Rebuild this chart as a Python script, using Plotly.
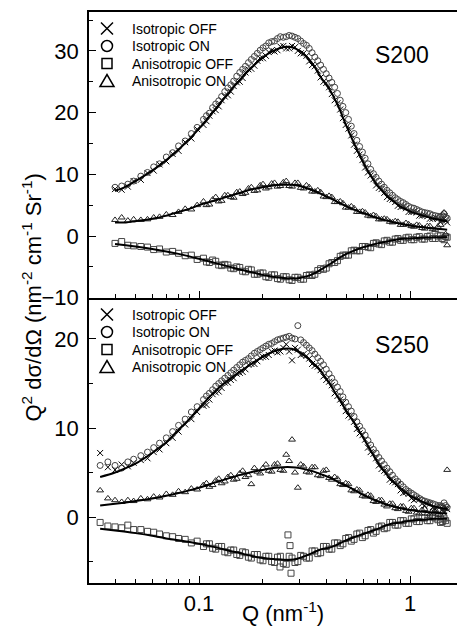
import plotly.graph_objects as go

# ---------------- data ----------------
Q_TOP = [0.040, 0.043, 0.046, 0.049, 0.053, 0.057, 0.061, 0.065, 0.070, 0.075,
         0.080, 0.086, 0.092, 0.098, 0.105, 0.112, 0.120, 0.128, 0.137, 0.146,
         0.156, 0.166, 0.177, 0.189, 0.201, 0.214, 0.228, 0.243, 0.259, 0.276,
         0.294, 0.313, 0.333, 0.354, 0.377, 0.401, 0.426, 0.453, 0.481, 0.511,
         0.543, 0.577, 0.613, 0.651, 0.691, 0.733, 0.778, 0.826, 0.876, 0.929,
         0.985, 1.044, 1.107, 1.173, 1.243, 1.317, 1.395, 1.450, 1.500]
Q_BOT = [0.034, 0.037] + Q_TOP
# additional (denser) Q points of the measured curves above 0.1 nm^-1
Q_MID = [0.1085, 0.116, 0.124, 0.1325, 0.1415, 0.151, 0.161, 0.1715, 0.183, 0.195,
         0.2075, 0.221, 0.2355, 0.251, 0.2675, 0.285, 0.3035, 0.323, 0.3435, 0.3655,
         0.389, 0.4135, 0.4395, 0.467, 0.496, 0.527, 0.56, 0.595, 0.632, 0.671,
         0.712, 0.7555, 0.802, 0.851, 0.9025, 0.957, 1.0145, 1.0755, 1.14, 1.208,
         1.28, 1.356, 1.4225, 1.475]

# S200 (top panel)
S200_ISO_OFF = [7.6, 7.5, 8.0, 8.9, 9.1, 10.2, 10.6, 11.6, 12.1, 13.3,
                13.8, 15.2, 15.8, 17.3, 18.0, 19.5, 20.4, 22.0, 22.8, 24.3,
                25.0, 26.5, 27.1, 28.4, 28.8, 29.8, 29.9, 30.7, 30.4, 30.8,
                30.0, 29.6, 28.3, 27.5, 25.7, 24.8, 23.0, 21.5, 19.1, 17.4,
                14.8, 13.2, 11.1, 9.8, 8.2, 7.6, 6.3, 5.9, 4.9, 4.8,
                3.9, 4.0, 3.3, 3.4, 2.8, 3.0, 2.4, 2.8, 2.2]
S200_ISO_OFF_MID = [18.6, 20.2, 21.0, 22.6, 23.4, 24.9, 25.6, 27.0, 27.6, 28.8,
                    29.2, 30.1, 30.1, 30.8, 30.4, 30.6, 29.6, 29.2, 27.7, 26.8,
                    25.0, 24.1, 22.0, 20.5, 18.0, 16.3, 13.8, 12.3, 10.3, 9.2,
                    7.8, 7.0, 6.0, 5.5, 4.7, 4.5, 3.9, 3.8, 3.3, 3.2,
                    2.8, 2.8, 2.5, 2.6]
S200_ISO_ON = [7.9, 8.1, 8.4, 8.9, 9.7, 10.3, 11.2, 11.7, 12.8, 13.5,
               14.6, 15.4, 16.6, 17.6, 18.9, 19.9, 21.4, 22.6, 24.0, 25.1,
               26.5, 27.5, 28.6, 29.6, 30.5, 31.3, 31.6, 32.3, 32.3, 32.4,
               32.0, 31.2, 30.4, 29.0, 27.7, 26.3, 24.9, 23.1, 21.0, 18.9,
               16.6, 14.5, 12.6, 10.8, 9.5, 8.4, 7.4, 6.6, 5.9, 5.4,
               4.8, 4.5, 4.1, 3.8, 3.6, 3.3, 3.1, 3.6, 2.9]
S200_ISO_ON_MID = [19.5, 20.8, 21.9, 23.4, 24.5, 25.9, 27.0, 28.1, 29.1, 30.1,
                   30.8, 31.5, 32.0, 32.2, 32.5, 32.2, 31.6, 30.9, 29.7, 28.4,
                   27.0, 25.6, 24.1, 22.0, 20.0, 17.8, 15.5, 13.6, 11.7, 10.1,
                   8.9, 7.9, 7.0, 6.2, 5.6, 5.1, 4.6, 4.3, 3.9, 3.7,
                   3.4, 3.2, 3.3, 3.0]
S200_ANI_OFF = [-1.2, -0.9, -1.5, -1.6, -1.7, -1.8, -2.2, -2.1, -2.6, -2.5,
                -2.8, -3.2, -3.1, -3.8, -3.6, -4.3, -4.1, -4.8, -4.7, -5.3,
                -5.1, -5.8, -5.5, -6.2, -6.0, -6.7, -6.3, -7.0, -6.6, -7.2,
                -6.7, -7.0, -6.3, -6.2, -5.3, -5.2, -4.3, -4.0, -3.1, -3.1,
                -2.3, -2.4, -1.7, -1.9, -1.1, -1.4, -0.7, -1.0, -0.4, -0.7,
                -0.2, -0.6, -0.1, -0.5, 0.0, -0.4, 0.1, -0.6, -0.2]
S200_ANI_OFF_MID = [-4.2, -3.9, -4.7, -4.6, -5.2, -5.0, -5.7, -5.4, -6.2, -6.0,
                    -6.6, -6.3, -6.9, -6.6, -7.1, -6.7, -7.0, -6.4, -6.4, -5.6,
                    -5.4, -4.5, -4.3, -3.3, -3.1, -2.4, -2.4, -1.7, -1.8, -1.2,
                    -1.3, -0.8, -1.0, -0.5, -0.7, -0.3, -0.6, -0.2, -0.5, -0.1,
                    -0.4, 0.0, -0.4, -0.1]
S200_ANI_ON = [2.6, 3.0, 2.5, 2.7, 2.6, 2.7, 3.0, 3.1, 3.5, 3.4,
               3.9, 4.4, 4.3, 5.0, 5.6, 5.1, 6.3, 5.7, 6.6, 6.2,
               7.2, 7.0, 7.9, 7.4, 8.4, 7.9, 8.6, 8.1, 8.9, 8.0,
               8.6, 7.7, 7.9, 7.2, 7.1, 6.3, 6.3, 5.5, 5.3, 4.6,
               4.5, 3.9, 3.8, 3.2, 3.2, 2.7, 2.7, 2.2, 2.3, 1.8,
               1.9, 1.5, 1.7, 1.2, 1.6, 1.0, 1.8, 3.8, -1.5]
S200_ANI_ON_MID = [5.0, 5.9, 5.6, 6.6, 6.3, 7.1, 6.8, 7.7, 7.3, 8.2,
                   7.7, 8.5, 8.0, 8.7, 8.1, 8.6, 7.8, 8.2, 7.2, 7.4,
                   6.4, 6.5, 5.5, 5.6, 4.6, 4.8, 3.9, 4.0, 3.3, 3.4,
                   2.7, 2.8, 2.3, 2.4, 1.8, 2.1, 1.6, 1.8, 1.3, 1.6,
                   1.1, 1.5, 2.6, 0.3]

# S250 (bottom panel)
S250_ISO_OFF = [7.2, 5.6, 5.3, 5.9, 5.7, 6.1, 6.4, 6.6, 7.3, 7.6, 8.3, 8.9,
                9.6, 10.4, 11.0, 11.8, 12.5, 13.2, 14.0, 14.5, 15.1, 15.6,
                16.2, 16.6, 17.2, 17.5, 18.0, 18.2, 18.7, 18.6, 19.4, 17.6,
                18.8, 18.3, 17.8, 17.0, 16.5, 15.4, 14.8, 13.6, 12.8, 11.4,
                10.7, 9.4, 8.7, 7.3, 6.6, 5.4, 5.0, 4.0, 3.7, 2.7,
                2.6, 1.9, 2.0, 1.3, 1.5, 0.9, 1.2, 0.5, 0.9]
S250_ISO_OFF_MID = [12.6, 13.8, 14.1, 15.1, 15.4, 16.1, 16.3, 17.1, 17.2, 17.9,
                    18.0, 18.6, 18.5, 19.0, 18.6, 19.0, 18.2, 18.1, 17.2, 16.9,
                    15.8, 15.2, 13.9, 13.2, 11.9, 11.2, 9.9, 9.2, 7.8, 7.1,
                    5.8, 5.2, 4.2, 3.9, 3.0, 2.8, 2.1, 2.1, 1.5, 1.6,
                    1.1, 1.2, 0.8, 1.0]
S250_ISO_ON = [5.8, 6.2, 5.8, 5.5, 6.2, 6.5, 6.9, 7.3, 7.8, 8.3, 8.9, 9.6,
               10.3, 11.0, 11.8, 12.4, 13.2, 13.9, 14.7, 15.3, 15.9, 16.5,
               17.1, 17.6, 18.1, 18.6, 19.0, 19.4, 19.7, 20.0, 20.2, 20.1,
               21.5, 19.6, 19.0, 18.3, 17.5, 16.6, 15.6, 14.6, 13.5, 12.4,
               11.3, 10.2, 9.2, 8.1, 7.2, 6.3, 5.5, 4.7, 4.0, 3.4,
               2.9, 2.5, 2.1, 1.8, 1.6, 1.4, 1.3, 1.6, 1.1]
S250_ISO_ON_MID = [13.6, 14.3, 15.0, 15.6, 16.2, 16.8, 17.4, 17.8, 18.4, 18.8,
                   19.2, 19.5, 19.9, 20.1, 20.3, 20.0, 19.9, 19.3, 18.7, 17.9,
                   17.1, 16.1, 15.1, 14.1, 12.9, 11.9, 10.7, 9.7, 8.6, 7.6,
                   6.7, 5.9, 5.1, 4.3, 3.7, 3.1, 2.7, 2.3, 1.9, 1.7,
                   1.5, 1.3, 1.2, 1.3]
S250_ANI_OFF = [-0.6, -1.0, -1.1, -1.2, -0.9, -1.4, -1.4, -1.6, -1.7, -1.9, -2.1, -2.2,
                -2.4, -2.5, -2.9, -2.7, -3.3, -3.0, -3.6, -3.3, -4.0, -3.7,
                -4.3, -4.0, -4.6, -4.2, -4.9, -4.4, -5.1, -4.4, -5.3, -4.6,
                -5.0, -4.4, -4.6, -3.8, -4.0, -3.3, -3.6, -2.9, -3.0, -2.3,
                -2.5, -1.8, -2.1, -1.4, -1.6, -1.0, -1.2, -0.6, -0.9, -0.4,
                -0.7, -0.2, -0.5, -0.1, -0.4, -0.1, -0.6, -0.2, -0.7]
S250_ANI_OFF_MID = [-3.0, -3.5, -3.3, -3.9, -3.7, -4.2, -3.9, -4.5, -4.2, -4.8,
                    -4.4, -5.0, -4.5, -5.2, -4.4, -5.1, -4.3, -4.6, -3.8, -4.1,
                    -3.3, -3.6, -2.9, -3.2, -2.4, -2.7, -1.9, -2.3, -1.5, -1.8,
                    -1.1, -1.3, -0.6, -0.9, -0.4, -0.7, -0.2, -0.5, -0.1, -0.4,
                    0.0, -0.3, -0.5, -0.4]
S250_ANI_ON = [3.0, 2.1, 1.9, 1.7, 1.9, 1.8, 2.1, 2.0, 2.3, 2.2, 2.6, 2.5,
               2.9, 2.8, 3.2, 3.1, 3.6, 3.4, 4.1, 3.8, 4.5, 4.2,
               4.9, 4.5, 3.7, 5.1, 5.5, 5.2, 5.9, 5.3, 7.0, 8.7,
               3.3, 5.7, 5.0, 5.6, 4.6, 5.3, 4.2, 4.3, 3.6, 3.7,
               2.9, 3.0, 2.3, 2.4, 1.7, 1.9, 1.2, 1.5, 0.9, 1.2,
               0.6, 1.0, 0.4, 0.9, 0.3, 0.8, 0.2, 1.0, 5.3]
S250_ANI_ON_MID = [3.8, 3.6, 4.3, 4.0, 4.7, 4.3, 5.2, 4.7, 5.5, 4.9,
                   5.9, 5.1, 6.0, 5.2, 6.3, 5.0, 5.9, 5.1, 5.6, 4.7,
                   5.2, 4.4, 4.5, 3.7, 3.8, 3.0, 3.1, 2.4, 2.5, 1.8,
                   1.9, 1.4, 1.5, 1.0, 1.2, 0.7, 1.0, 0.5, 0.8, 0.4,
                   0.7, 0.3, 0.6, 0.9]
# scattered anisotropic-OFF points near the S250 minimum
S250_ANI_OFF_OUT_Q = [0.264, 0.270, 0.242, 0.273]
S250_ANI_OFF_OUT = [-2.0, -3.2, -5.6, -6.3]

# fitted curves
QF_TOP = [0.040, 0.045, 0.050, 0.060, 0.070, 0.080, 0.090, 0.100, 0.120, 0.140,
          0.160, 0.180, 0.200, 0.225, 0.250, 0.275, 0.300, 0.340, 0.380, 0.420,
          0.460, 0.500, 0.550, 0.600, 0.650, 0.700, 0.800, 0.900, 1.000, 1.150,
          1.300, 1.500]
QF_BOT = [0.034] + QF_TOP
FIT_S200_ISO = [7.3, 8.0, 8.9, 10.6, 12.3, 14.0, 15.7, 17.4, 20.6, 23.4,
                25.7, 27.5, 28.9, 30.0, 30.6, 30.6, 30.0, 28.2, 25.6, 23.5,
                20.8, 17.8, 14.6, 11.9, 9.8, 8.2, 6.1, 4.8, 4.0, 3.3,
                2.8, 2.4]
FIT_S200_ANI_ON = [2.2, 2.2, 2.4, 2.8, 3.3, 3.9, 4.4, 5.0, 5.8, 6.5,
                   7.1, 7.6, 7.9, 8.2, 8.3, 8.3, 8.1, 7.5, 6.8, 6.1,
                   5.4, 4.8, 4.2, 3.7, 3.3, 2.9, 2.4, 2.0, 1.7, 1.4,
                   1.2, 1.0]
FIT_S200_ANI_OFF = [-1.3, -1.5, -1.7, -2.1, -2.5, -2.9, -3.3, -3.7, -4.4, -5.0,
                    -5.5, -5.9, -6.3, -6.6, -6.8, -6.9, -6.8, -6.3, -5.4, -4.5,
                    -3.6, -2.9, -2.3, -1.8, -1.5, -1.2, -0.8, -0.5, -0.4, -0.3,
                    -0.2, -0.2]
FIT_S250_ISO = [4.5, 5.0, 5.5, 6.0, 7.2, 8.4, 9.8, 11.0, 12.2, 14.2, 15.5,
                16.5, 17.3, 18.0, 18.6, 18.9, 18.9, 18.5, 17.5, 16.3, 14.8,
                13.3, 11.9, 10.4, 8.9, 7.5, 6.2, 4.4, 3.2, 2.4, 1.7,
                1.2, 0.9]
FIT_S250_ANI_ON = [1.3, 1.5, 1.65, 1.8, 2.1, 2.4, 2.7, 3.0, 3.3, 3.9, 4.4,
                   4.8, 5.1, 5.3, 5.5, 5.6, 5.6, 5.5, 5.2, 4.8, 4.4,
                   3.9, 3.5, 3.0, 2.5, 2.1, 1.8, 1.3, 1.0, 0.8, 0.6,
                   0.5, 0.4]
FIT_S250_ANI_OFF = [-1.3, -1.5, -1.65, -1.8, -2.1, -2.4, -2.6, -2.8, -3.0, -3.4, -3.8,
                    -4.1, -4.4, -4.6, -4.7, -4.8, -4.8, -4.6, -4.1, -3.6, -3.4,
                    -3.0, -2.6, -2.2, -1.9, -1.6, -1.35, -0.8, -0.6, -0.4, -0.3,
                    -0.2, -0.2]

SERIES_NAMES = ["Isotropic OFF", "Isotropic ON", "Anisotropic OFF", "Anisotropic ON"]
PANEL_LABELS = ["S200", "S250"]
X_TICKS = [0.1, 1]
X_TICK_TEXT = ["0.1", "1"]
X_MINOR = [0.04, 0.05, 0.06, 0.07, 0.08, 0.09, 0.2, 0.3, 0.4, 0.5, 0.6, 0.7, 0.8, 0.9]

# ---------------- styling ----------------
FONT = "Liberation Sans, Arial, sans-serif"
SYMBOLS = ["x-thin-open", "circle-open", "square-open", "triangle-up-open"]
MCOLORS = ["#000000", "#444444", "#444444", "#222222"]
SPLIT = 0.4991

fig = go.Figure()

def add_panel(q, datasets, mids, xa, ya):
    for name, vals, mid, sym, col in zip(SERIES_NAMES, datasets, mids, SYMBOLS, MCOLORS):
        fig.add_trace(go.Scatter(
            x=q + Q_MID, y=vals + mid, mode="markers", name=name, showlegend=False,
            marker=dict(symbol=sym, size=6, color=col,
                        line=dict(width=1, color=col)),
            xaxis=xa, yaxis=ya))

add_panel(Q_TOP, [S200_ISO_OFF, S200_ISO_ON, S200_ANI_OFF, S200_ANI_ON],
          [S200_ISO_OFF_MID, S200_ISO_ON_MID, S200_ANI_OFF_MID, S200_ANI_ON_MID], "x2", "y2")
add_panel(Q_BOT, [S250_ISO_OFF, S250_ISO_ON, S250_ANI_OFF, S250_ANI_ON],
          [S250_ISO_OFF_MID, S250_ISO_ON_MID, S250_ANI_OFF_MID, S250_ANI_ON_MID], "x", "y")

fig.add_trace(go.Scatter(x=S250_ANI_OFF_OUT_Q, y=S250_ANI_OFF_OUT, mode="markers",
                         showlegend=False, xaxis="x", yaxis="y",
                         marker=dict(symbol="square-open", size=6, color="#444444",
                                     line=dict(width=1, color="#444444"))))

for qf, fits, xa, ya in [(QF_TOP, [FIT_S200_ISO, FIT_S200_ANI_ON, FIT_S200_ANI_OFF], "x2", "y2"),
                         (QF_BOT, [FIT_S250_ISO, FIT_S250_ANI_ON, FIT_S250_ANI_OFF], "x", "y")]:
    for f in fits:
        fig.add_trace(go.Scatter(x=qf, y=f, mode="lines", showlegend=False,
                                 line=dict(color="black", width=2, shape="spline"),
                                 xaxis=xa, yaxis=ya))

# ---------------- hand-drawn keys (one per panel) ----------------
shapes = []
annotations = []
ROW_OFFSETS = [16.5, 34, 51.5, 69]   # px below the panel top
KEY_X = 18                           # px right of the plot's left edge
TEXT_X = 41
for top in [1.0, SPLIT]:
    for i, (name, off) in enumerate(zip(SERIES_NAMES, ROW_OFFSETS)):
        cy = -off
        common = dict(xref="paper", yref="paper", xsizemode="pixel", ysizemode="pixel",
                      xanchor=0, yanchor=top, line=dict(color="black", width=1.5))
        if i == 0:
            shapes.append(dict(type="path", **common,
                               path=f"M{KEY_X-6},{cy-6} L{KEY_X+6},{cy+6} "
                                    f"M{KEY_X-6},{cy+6} L{KEY_X+6},{cy-6}"))
        elif i == 1:
            shapes.append(dict(type="circle", **common, x0=KEY_X - 5.5, x1=KEY_X + 5.5,
                               y0=cy - 5.5, y1=cy + 5.5))
        elif i == 2:
            shapes.append(dict(type="rect", **common, x0=KEY_X - 5, x1=KEY_X + 5,
                               y0=cy - 5, y1=cy + 5))
        else:
            shapes.append(dict(type="path", **common,
                               path=f"M{KEY_X-7},{cy-5.5} L{KEY_X+7},{cy-5.5} "
                                    f"L{KEY_X},{cy+6.5} Z"))
        annotations.append(dict(text=name, xref="paper", yref="paper", x=0, y=top,
                                xshift=TEXT_X, yshift=cy, xanchor="left", yanchor="middle",
                                showarrow=False,
                                font=dict(size=14, family=FONT, color="black")))

annotations += [
    dict(text=PANEL_LABELS[0], xref="paper", yref="paper", x=0.8505, y=0.9247,
         xanchor="center", yanchor="middle", showarrow=False,
         font=dict(size=23, family=FONT, color="black")),
    dict(text=PANEL_LABELS[1], xref="paper", yref="paper", x=0.8505, y=0.4168,
         xanchor="center", yanchor="middle", showarrow=False,
         font=dict(size=23, family=FONT, color="black")),
    dict(text="Q<sup>2</sup> dσ/dΩ (nm<sup>-2</sup> cm<sup>-1</sup> Sr<sup>-1</sup>)",
         xref="paper", yref="paper", x=0, y=0.5, xshift=-58, textangle=-90,
         xanchor="center", yanchor="middle", showarrow=False,
         font=dict(size=22, family=FONT, color="black")),
    dict(text="Q (nm<sup>-1</sup>)", xref="paper", yref="paper", x=0.527, y=0,
         yshift=-29, xanchor="center", yanchor="middle", showarrow=False,
         font=dict(size=22, family=FONT, color="black")),
]

XR = [-1.5213, 0.2227]
xcommon = dict(type="log", range=XR, showline=True, linecolor="black", linewidth=1.5,
               ticks="inside", ticklen=7, tickwidth=1, tickcolor="black",
               tickvals=X_TICKS, ticktext=X_TICK_TEXT, showgrid=False, zeroline=False,
               minor=dict(tickvals=X_MINOR, ticks="inside", ticklen=4, tickwidth=1,
                          tickcolor="black", showgrid=False))
ycommon = dict(showline=True, linecolor="black", linewidth=1.5, ticks="inside",
               ticklen=7, tickwidth=1, tickcolor="black", dtick=10, tick0=0,
               showgrid=False, zeroline=False, ticklabelstandoff=4,
               minor=dict(dtick=5, ticks="inside", ticklen=4, tickwidth=1,
                          tickcolor="black", showgrid=False),
               tickfont=dict(size=22, family=FONT, color="black"))

fig.update_layout(
    width=457, height=633,
    margin=dict(l=89, r=0, t=12, b=50),
    paper_bgcolor="white", plot_bgcolor="white",
    font=dict(family=FONT, color="black"),
    showlegend=False,
    xaxis=dict(**xcommon, anchor="y", domain=[0, 1],
               tickfont=dict(size=22, family=FONT, color="black")),
    xaxis2=dict(**xcommon, anchor="y2", matches="x", showticklabels=False, mirror=True),
    yaxis=dict(**ycommon, domain=[0, SPLIT], range=[-7.4, 24.6], anchor="x"),
    yaxis2=dict(**ycommon, domain=[SPLIT, 1], range=[-10.05, 36.3], anchor="x2"),
    shapes=shapes,
    annotations=annotations,
)

fig.write_html("out.html")
